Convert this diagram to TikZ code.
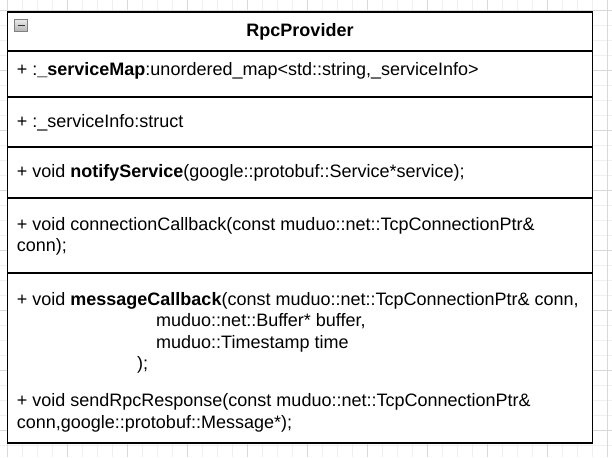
\documentclass[tikz,border=0pt]{standalone}
\usepackage{fontspec}
\setmainfont{Liberation Sans}
\begin{document}
\begin{tikzpicture}[x=1pt,y=-1pt,
  gridminor/.style={draw=black!6,line width=0.8pt},
  gridmajor/.style={draw=black!15,line width=0.8pt},
  compartment/.style={draw=black,line width=1.3pt,fill=white,minimum width=585pt,anchor=north west,inner sep=0pt,outer sep=0pt},
  txt/.style={anchor=base west,inner sep=0pt,font=\fontsize{18}{21.5}\selectfont},
  title/.style={anchor=base,inner sep=0pt,font=\fontsize{18}{21.5}\selectfont\bfseries}
]
\useasboundingbox (0,0) rectangle (612,457);
\fill[white] (0,0) rectangle (612,457);
% grid
\foreach \k in {0,...,40} {\draw[gridminor] (7.3+15*\k,0) -- (7.3+15*\k,457);}
\foreach \k in {0,...,29} {\draw[gridminor] (0,10+15*\k) -- (612,10+15*\k);}
\foreach \k in {0,...,10} {\draw[gridmajor] (7.3+60*\k,0) -- (7.3+60*\k,457);}
\foreach \k in {0,...,7} {\draw[gridmajor] (0,10+60*\k) -- (612,10+60*\k);}
% compartments
\node[compartment,minimum height=39pt] (head) at (7.5,12) {};
\node[compartment,minimum height=46pt] (c1) at (7.5,51) {};
\node[compartment,minimum height=50pt] (c2) at (7.5,97) {};
\node[compartment,minimum height=51pt] (c3) at (7.5,147) {};
\node[compartment,minimum height=75pt] (c4) at (7.5,198) {};
\node[compartment,minimum height=170pt] (c5) at (7.5,273) {};
% collapse icon
\node[draw=black!50,line width=0.8pt,top color=black!8,bottom color=black!30,minimum width=12.6pt,minimum height=12.6pt,inner sep=0pt] (icon) at (21,25.6) {};
\draw[black!80,line width=1.5pt] ([xshift=-3.5pt]icon.center) -- ([xshift=3.5pt]icon.center);
% texts
\node[title] (tname) at (300,36.7) {RpcProvider};
\node[txt] (t1) at (16.7,76) {+ :\textbf{\_serviceMap}:unordered\_map<std::string,\_serviceInfo>};
\node[txt] (t2) at (16.7,127.5) {+ :\_serviceInfo:struct};
\node[txt] (t3) at (16.7,177.3) {+ void \textbf{notifyService}(google::protobuf::Service*service);};
\node[txt] (t4a) at (16.7,230) {+ void connectionCallback(const muduo::net::TcpConnectionPtr\&};
\node[txt] (t4b) at (16.7,251.5) {conn);};
\node[txt] (t5a) at (16.7,305) {+ void \textbf{messageCallback}(const muduo::net::TcpConnectionPtr\& conn,};
\node[txt] (t5b) at (156,326.5) {muduo::net::Buffer* buffer,};
\node[txt] (t5c) at (156,348) {muduo::Timestamp time};
\node[txt] (t5d) at (137,369.5) {);};
\node[txt] (t6a) at (16.7,406.7) {+ void sendRpcResponse(const muduo::net::TcpConnectionPtr\&};
\node[txt] (t6b) at (16.7,428.3) {conn,google::protobuf::Message*);};
\end{tikzpicture}
\end{document}
